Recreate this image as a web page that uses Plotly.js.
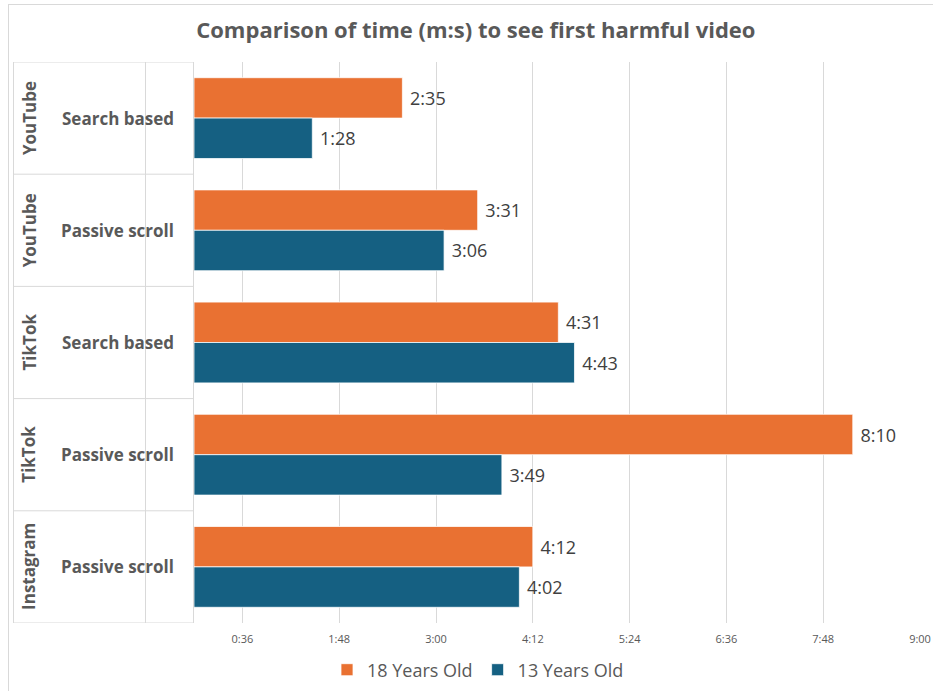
<!DOCTYPE html>
<html>
<head>
<meta charset="utf-8">
<script src="https://cdn.plot.ly/plotly-3.0.1.min.js"></script>
<style>html,body{margin:0;padding:0;background:#fff;}#chart{width:933px;height:691px;}</style>
</head>
<body>
<div id="chart"></div>
<script>
// ---- Data ----
const platforms = ["YouTube", "YouTube", "TikTok", "TikTok", "Instagram"];
const methods = ["Search based", "Passive scroll", "Search based", "Passive scroll", "Passive scroll"];
const age18Labels = ["2:35", "3:31", "4:31", "8:10", "4:12"];
const age13Labels = ["1:28", "3:06", "4:43", "3:49", "4:02"];
const tickLabels = ["0:36", "1:48", "3:00", "4:12", "5:24", "6:36", "7:48", "9:00"];
const seriesNames = ["18 Years Old", "13 Years Old"];

// m:s text -> seconds
function toSec(s) { const p = s.split(":"); return Number(p[0]) * 60 + Number(p[1]); }
const age18 = age18Labels.map(toSec);
const age13 = age13Labels.map(toSec);
const tickVals = tickLabels.map(toSec);
const categories = platforms.map((p, i) => p + " | " + methods[i]);

// ---- Geometry helpers (page px -> paper) ----
const W = 933, H = 691;
const M = {l: 194, r: 13, t: 62, b: 68, autoexpand: false};
const pw = W - M.l - M.r, ph = H - M.t - M.b;
const px = x => (x - M.l) / pw;
const py = y => (H - M.b - y) / ph;

const grid = "#d9d9d9";
const txt = "#595959";
const font = "Open Sans, Noto Sans, sans-serif";

const traces = [
  {type: "bar", orientation: "h", name: seriesNames[0], y: categories, x: age18,
   text: age18Labels, texttemplate: "\u00a0%{text}", textposition: "outside", cliponaxis: false,
   textfont: {family: font, size: 18, color: "#404040"},
   marker: {color: "#E97132", line: {color: "#ffffff", width: 0.75}},
   hoverinfo: "skip"},
  {type: "bar", orientation: "h", name: seriesNames[1], y: categories, x: age13,
   text: age13Labels, texttemplate: "\u00a0%{text}", textposition: "outside", cliponaxis: false,
   textfont: {family: font, size: 18, color: "#404040"},
   marker: {color: "#156082", line: {color: "#ffffff", width: 0.75}},
   hoverinfo: "skip"}
];

const shapes = [];
const line = {color: grid, width: 1};
// outer chart border (top and left)
shapes.push({type: "line", xref: "paper", yref: "paper", x0: px(8), x1: px(960), y0: py(4.5), y1: py(4.5), line: line});
shapes.push({type: "line", xref: "paper", yref: "paper", x0: px(8.5), x1: px(8.5), y0: py(4.5), y1: py(720), line: line});
// category table vertical lines
[13.5, 145.5, 193.5].forEach(x => shapes.push({type: "line", xref: "paper", yref: "paper", x0: px(x), x1: px(x), y0: 0, y1: 1, line: line}));
// category table horizontal lines
for (let i = 0; i <= categories.length; i++) {
  shapes.push({type: "line", xref: "paper", yref: "y", x0: px(13.5), x1: px(193.5), y0: i - 0.5, y1: i - 0.5, line: line});
}

const annotations = [];
categories.forEach((c, i) => {
  annotations.push({xref: "paper", yref: "y", x: px(117.5), y: i, text: methods[i], showarrow: false,
    xanchor: "center", yanchor: "middle", font: {family: font, size: 17, color: txt, weight: "bold"}});
  annotations.push({xref: "paper", yref: "y", x: px(29), y: i, text: platforms[i], showarrow: false, textangle: -90,
    xanchor: "center", yanchor: "middle", font: {family: font, size: 17, color: txt, weight: "bold"}});
});

const layout = {
  width: W, height: H,
  margin: M,
  paper_bgcolor: "#ffffff", plot_bgcolor: "#ffffff",
  barmode: "group", bargap: 0.28, bargroupgap: 0,
  title: {text: "Comparison of time (m:s) to see first harmful video", x: 0.51, xanchor: "center", y: 1 - 30 / H, yanchor: "middle",
          font: {family: font, size: 22, color: txt, weight: "bold"}},
  xaxis: {range: [0, 540], tickvals: tickVals, ticktext: tickLabels, showgrid: true, gridcolor: grid, gridwidth: 1,
          zeroline: false, showline: false, ticks: "", ticklabelstandoff: 8,
          tickfont: {family: font, size: 11, color: txt}, fixedrange: true},
  yaxis: {type: "category", range: [4.5, -0.5], showticklabels: false, showgrid: false, zeroline: false, showline: false, ticks: "", fixedrange: true},
  showlegend: true,
  legend: {orientation: "h", x: px(478), xanchor: "center", y: py(670), yanchor: "middle",
           font: {family: font, size: 18, color: txt}, itemwidth: 30, tracegroupgap: 0},
  shapes: shapes,
  annotations: annotations
};

Plotly.newPlot("chart", traces, layout, {staticPlot: true, displayModeBar: false});
</script>
</body>
</html>
